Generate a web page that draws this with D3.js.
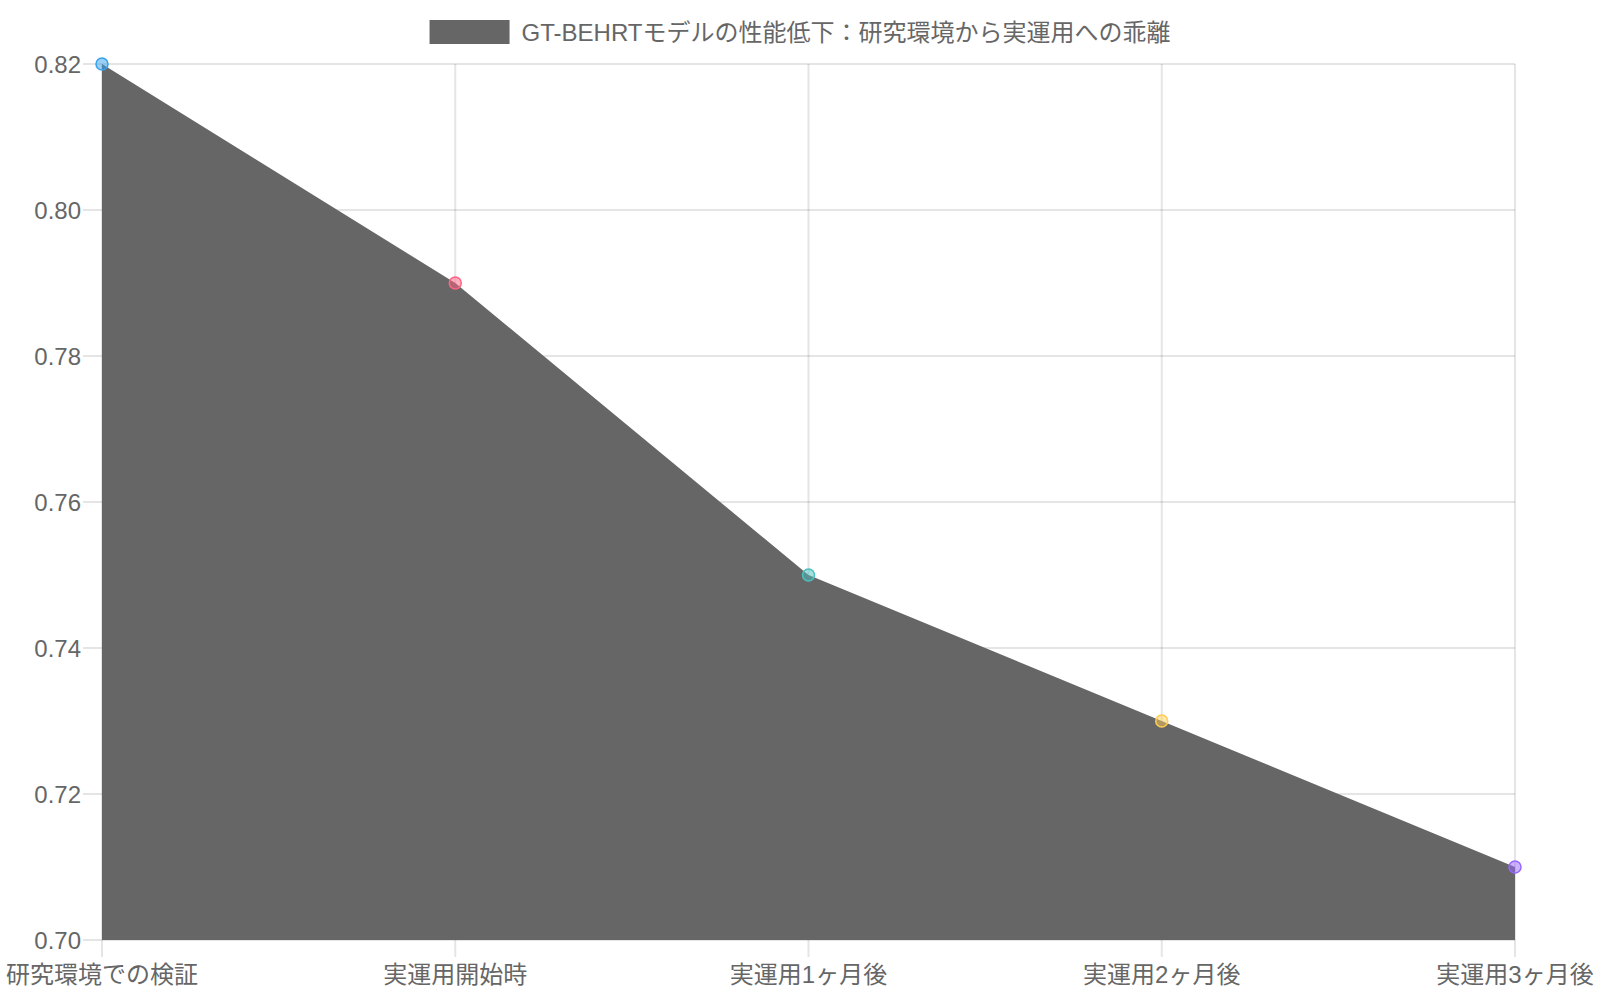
<!DOCTYPE html>
<html>
<head>
<meta charset="utf-8">
<script src="https://cdn.jsdelivr.net/npm/d3@7.9.0/dist/d3.min.js"></script>
<style>
  html, body { margin: 0; padding: 0; background: #fff; }
  svg { display: block; font-family: "Liberation Sans", Arial, "Noto Sans CJK JP", sans-serif; }
</style>
</head>
<body>
<svg width="1600" height="1000"></svg>
<script>
const labels = ['研究環境での検証', '実運用開始時', '実運用1ヶ月後', '実運用2ヶ月後', '実運用3ヶ月後'];
const values = [0.82, 0.79, 0.75, 0.73, 0.71];
const pointColors = [
  [54, 162, 235],
  [255, 99, 132],
  [75, 192, 192],
  [255, 205, 86],
  [153, 102, 255]
];
const yTicks = [0.70, 0.72, 0.74, 0.76, 0.78, 0.80, 0.82];
const seriesName = 'GT-BEHRTモデルの性能低下：研究環境から実運用への乖離';

const svg = d3.select('svg');
const plotLeft = 102, plotRight = 1515, plotTop = 64, plotBottom = 940;
const textColor = '#666';
const gridColor = 'rgba(0,0,0,0.1)';
const fontSize = 24;

let x = d3.scalePoint().domain(labels).range([plotLeft, plotRight]);
let y = d3.scaleLinear().domain([0.70, 0.82]).range([plotBottom, plotTop]);

// grid lines (with tick marks sticking out)
const grid = svg.append('g');
yTicks.forEach((t) => {
  grid.append('line')
    .attr('x1', plotLeft - 19).attr('x2', plotRight)
    .attr('y1', y(t)).attr('y2', y(t))
    .attr('stroke', gridColor).attr('stroke-width', 2);
});
labels.forEach((l) => {
  grid.append('line')
    .attr('x1', x(l)).attr('x2', x(l))
    .attr('y1', plotTop).attr('y2', plotBottom + 17)
    .attr('stroke', gridColor).attr('stroke-width', 2);
});

// y tick labels
yTicks.forEach((t) => {
  svg.append('text')
    .attr('x', 81).attr('y', y(t))
    .attr('text-anchor', 'end').attr('dominant-baseline', 'central')
    .attr('fill', textColor).attr('font-size', fontSize)
    .text(t.toFixed(2));
});

// x tick labels
labels.forEach((l) => {
  svg.append('text')
    .attr('x', x(l)).attr('y', 974)
    .attr('text-anchor', 'middle').attr('dominant-baseline', 'central')
    .attr('fill', textColor).attr('font-size', fontSize)
    .text(l);
});

// area
let area = d3.area()
  .x((d, i) => x(labels[i]))
  .y0(y(0.70))
  .y1((d) => y(d));

svg.append('path')
  .datum(values)
  .attr('d', area)
  .attr('fill', '#666');

// points
values.forEach((v, i) => {
  const c = pointColors[i];
  svg.append('circle')
    .attr('cx', x(labels[i])).attr('cy', y(v))
    .attr('r', 6)
    .attr('fill', `rgba(${c[0]},${c[1]},${c[2]},0.5)`)
    .attr('stroke', `rgb(${c[0]},${c[1]},${c[2]})`)
    .attr('stroke-width', 1.5);
});

// legend, centred on the canvas
const legend = svg.append('g');
const legendText = legend.append('text')
  .attr('y', 32)
  .attr('dominant-baseline', 'central')
  .attr('fill', textColor).attr('font-size', fontSize)
  .text(seriesName);
const textW = legendText.node().getComputedTextLength();
const boxW = 80, gap = 12;
const legendX = 800 - (boxW + gap + textW) / 2;
legend.append('rect')
  .attr('x', legendX).attr('y', 20).attr('width', boxW).attr('height', 24)
  .attr('fill', '#666');
legendText.attr('x', legendX + boxW + gap);
</script>
</body>
</html>
